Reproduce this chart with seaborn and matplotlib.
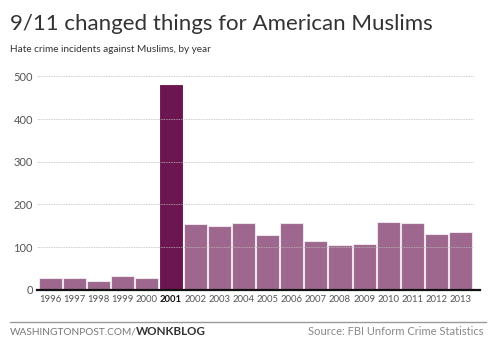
import matplotlib
matplotlib.use("Agg")
import matplotlib.pyplot as plt
import seaborn as sns
import pandas as pd
from matplotlib.lines import Line2D

years = ["1996", "1997", "1998", "1999", "2000", "2001", "2002", "2003", "2004",
         "2005", "2006", "2007", "2008", "2009", "2010", "2011", "2012", "2013"]
incidents = [27, 28, 21, 32, 28, 481, 155, 149, 156, 128, 156, 115, 105, 107, 160, 157, 130, 135]
highlight_year = "2001"
y_ticks = [0, 100, 200, 300, 400, 500]

title = "9/11 changed things for American Muslims"
subtitle = "Hate crime incidents against Muslims, by year"
footer_left_a = "WASHINGTONPOST.COM/"
footer_left_b = "WONKBLOG"
footer_right = "Source: FBI Unform Crime Statistics"

sns.set_theme(style="white")
plt.rcParams['font.family'] = ['Lato', 'DejaVu Sans']

df = pd.DataFrame({"year": years, "incidents": incidents})

fig = plt.figure(figsize=(5.0, 3.41), dpi=100)
ax = fig.add_axes([0.074, 0.150, 0.886, 0.626])

base = "#6b1650"
sns.barplot(data=df, x="year", y="incidents", color=base, ax=ax, width=0.96,
            saturation=1, edgecolor="white", linewidth=0.8, zorder=2)
for patch, yr in zip(ax.patches, years):
    if yr == highlight_year:
        patch.set_alpha(1.0)
    else:
        patch.set_alpha(0.65)

ax.set_ylim(0, 500)
ax.set_xlim(-0.55, len(years) - 0.45 + 0.25)
ax.set_yticks(y_ticks)
ax.set_yticklabels([str(t) for t in y_ticks], color="#555555", fontsize=8)
for t in y_ticks[1:]:
    ax.plot([-0.55, len(years) - 0.5], [t, t], color="#bbbbbb", lw=0.6,
            ls=(0, (1, 1)), zorder=3)
ax.tick_params(axis="y", length=0, pad=3)
ax.tick_params(axis="x", length=0, pad=4)
ax.set_xlabel("")
ax.set_ylabel("")
for lab in ax.get_xticklabels():
    lab.set_fontsize(6.8)
    if lab.get_text() == highlight_year:
        lab.set_fontweight("bold")
        lab.set_color("#111111")
    else:
        lab.set_color("#555555")
for s in ["top", "right", "left"]:
    ax.spines[s].set_visible(False)
ax.spines["bottom"].set_color("#111111")
ax.spines["bottom"].set_linewidth(1.6)
ax.spines["bottom"].set_zorder(4)

fig.text(0.02, 0.958, title, fontsize=16.0, fontweight="normal", color="#333333",
         va="top", ha="left")
fig.text(0.02, 0.868, subtitle, fontsize=7.2, color="#333333", va="top", ha="left")

fig.add_artist(Line2D([0.02, 0.972], [0.0566, 0.0566], transform=fig.transFigure,
                      color="#999999", lw=1.0))
t1 = fig.text(0.02, 0.027, footer_left_a, fontsize=7.3, color="#777777", va="center", ha="left")
ax.annotate(footer_left_b, xy=(1.0, 0.5), xycoords=t1, xytext=(-0.6, 0),
            textcoords="offset points", fontsize=8.4, color="#333333",
            fontweight="bold", va="center", ha="left", annotation_clip=False)
fig.text(0.966, 0.027, footer_right, fontsize=8, color="#888888", va="center", ha="right")

fig.savefig("out.png", dpi=100, facecolor="white")
